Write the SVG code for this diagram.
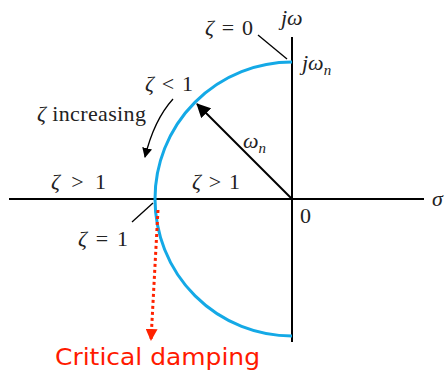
<svg xmlns="http://www.w3.org/2000/svg" width="447" height="375" viewBox="0 0 447 375">
<style>
.m{font-family:"Liberation Serif","Times New Roman",serif;font-size:22px;fill:#222}
.i{font-style:italic}
.ax{stroke:#000;stroke-width:2;fill:none}
.ld{stroke:#000;stroke-width:1.3;fill:none}
</style>
<defs>
<marker id="ah" markerWidth="10" markerHeight="10" refX="9" refY="5" orient="auto" markerUnits="userSpaceOnUse" viewBox="0 0 10 10"><path d="M0,0 L10,5 L0,10 Z" fill="#000"/></marker>
<marker id="ah2" markerWidth="14" markerHeight="14" refX="13" refY="7" orient="auto" markerUnits="userSpaceOnUse" viewBox="0 0 14 14"><path d="M0,0 L14,7 L0,14 Z" fill="#000"/></marker>
<marker id="ahr" markerWidth="12" markerHeight="12" refX="11" refY="6" orient="auto" markerUnits="userSpaceOnUse" viewBox="0 0 12 12"><path d="M0,0 L12,6 L0,12 Z" fill="#ff2200"/></marker>
</defs>
<g id="axes">
<line class="ax" x1="9" y1="199" x2="424" y2="199"/>
<line class="ax" x1="292" y1="37" x2="292" y2="342"/>
</g>
<g id="locus">
<path d="M292,62 A137,137 0 0 0 292,336" fill="none" stroke="#14a9e6" stroke-width="3"/>
</g>
<g id="connectors">
<line x1="292" y1="199" x2="197" y2="104" stroke="#000" stroke-width="2" marker-end="url(#ah2)"/>
<path d="M173,99 Q154,120 145,157" class="ld" stroke-width="1.5" marker-end="url(#ah)"/>
<line class="ld" x1="258" y1="35" x2="287" y2="59"/>
<line class="ld" x1="132" y1="222" x2="153" y2="203"/>
<line x1="158" y1="210" x2="151" y2="340" stroke="#ff2200" stroke-width="3" stroke-dasharray="3,3" marker-end="url(#ahr)"/>
</g>
<g id="labels">
<text class="m" x="205" y="35" textLength="48"><tspan class="i">ζ</tspan> = 0</text>
<text class="m i" x="281" y="25">jω</text>
<text class="m i" x="302" y="70">jω<tspan font-size="15" dy="5">n</tspan></text>
<text class="m" x="145" y="91" textLength="48"><tspan class="i">ζ</tspan> &lt; 1</text>
<text class="m" x="37" y="121" textLength="109"><tspan class="i">ζ</tspan> increasing</text>
<text class="m i" x="243" y="148">ω<tspan font-size="15" dy="5">n</tspan></text>
<text class="m" x="51" y="189" textLength="55"><tspan class="i">ζ</tspan>  &gt; 1</text>
<text class="m" x="192" y="189" textLength="48"><tspan class="i">ζ</tspan> &gt; 1</text>
<text class="m i" x="432" y="206">σ</text>
<text class="m" x="300" y="223">0</text>
<text class="m" x="78" y="246" textLength="50"><tspan class="i">ζ</tspan> = 1</text>
<text x="55" y="365" font-family="DejaVu Sans,Verdana,sans-serif" font-size="23" fill="#ff1a00" textLength="205" lengthAdjust="spacingAndGlyphs">Critical damping</text>
</g>
</svg>
